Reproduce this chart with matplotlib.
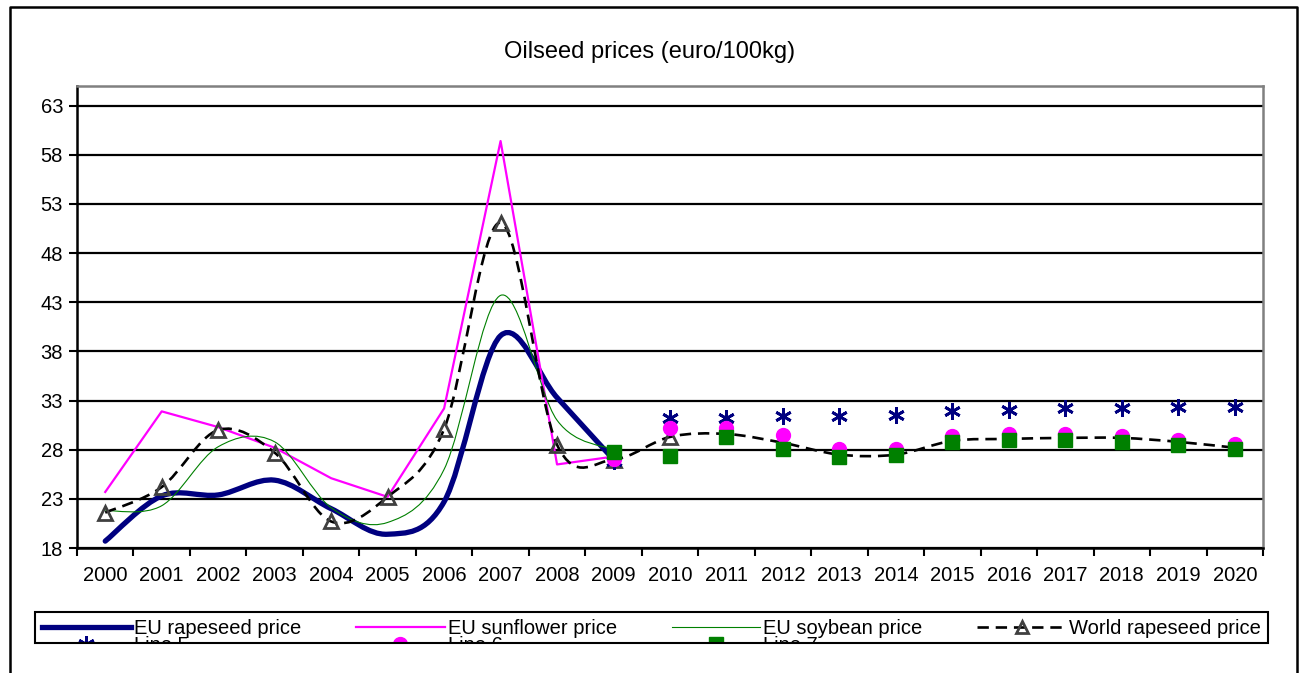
#/usr/bin/python3

import numpy as np
import matplotlib
matplotlib.use('Agg')
import matplotlib.pyplot as plt
from matplotlib.path import Path
from matplotlib.patches import PathPatch, Rectangle
from matplotlib.lines import Line2D

plt.rcParams['font.family'] = ['Liberation Sans', 'DejaVu Sans']

years = ['2000', '2001', '2002', '2003', '2004', '2005', '2006', '2007', '2008', '2009', '2010',
         '2011', '2012', '2013', '2014', '2015', '2016', '2017', '2018', '2019', '2020']

# historical series 2000-2009
eu_rapeseed = [18.7, 23.3, 23.4, 24.9, 22.0, 19.4, 22.7, 39.6, 33.3, 27.0]
eu_sunflower = [23.7, 31.9, 30.3, 28.2, 25.1, 23.2, 32.2, 59.4, 26.5, 27.3]
eu_soybean = [21.8, 22.3, 28.3, 28.8, 22.1, 20.6, 26.0, 43.7, 31.0, 28.0]
# world price 2000-2020
world_rapeseed = [21.6, 24.2, 30.0, 27.7, 20.7, 23.2, 30.1, 51.1, 28.5, 27.0, 29.3,
                  29.6, 28.7, 27.5, 27.5, 28.9, 29.1, 29.2, 29.2, 28.8, 28.2]
# projections 2009-2020
line5 = [26.8, 31.2, 31.2, 31.4, 31.4, 31.5, 31.9, 32.0, 32.2, 32.2, 32.3, 32.3]
line6 = [27.1, 30.2, 30.2, 29.5, 28.1, 28.1, 29.4, 29.6, 29.6, 29.4, 29.0, 28.6]
line7 = [27.8, 27.4, 29.3, 28.1, 27.3, 27.5, 28.8, 29.0, 29.0, 28.8, 28.5, 28.1]
yticks = [18, 23, 28, 33, 38, 43, 48, 53, 58, 63]


def smooth_path(xs, ys):
    # excel-like smoothed line (cubic bezier through the points)
    pts = np.column_stack([xs, ys]).astype(float)
    n = len(pts)
    verts = [pts[0]]
    codes = [Path.MOVETO]
    for i in range(n - 1):
        p0 = pts[max(i - 1, 0)]
        p1 = pts[i]
        p2 = pts[i + 1]
        p3 = pts[min(i + 2, n - 1)]
        c1 = p1 + (p2 - p0) / 6.0
        c2 = p2 - (p3 - p1) / 6.0
        verts += [c1, c2, p2]
        codes += [Path.CURVE4] * 3
    return Path(verts, codes)


W, H = 1299, 673
fig = plt.figure(figsize=(W / 100, H / 100), dpi=100)
ax = fig.add_axes([77 / W, 1 - 548 / H, (1263 - 77) / W, (548 - 86) / H])

x_hist = np.arange(len(eu_rapeseed))
x_world = np.arange(len(world_rapeseed))
x_proj = np.arange(9, 9 + len(line5))

ax.add_patch(PathPatch(smooth_path(x_hist, eu_rapeseed), fill=False, ec='#000080',
                       lw=3.8, capstyle='round', joinstyle='round', zorder=3))
ax.plot(x_hist, eu_sunflower, color='#FF00FF', lw=1.6, zorder=4)
ax.add_patch(PathPatch(smooth_path(x_hist, eu_soybean), fill=False, ec='#008000',
                       lw=0.8, zorder=5))
ax.add_patch(PathPatch(smooth_path(x_world, world_rapeseed), fill=False, ec='black',
                       lw=1.9, ls=(0, (4.3, 2.6)), zorder=6))
ax.plot(x_world[:11], world_rapeseed[:11], ls='none', marker='^', ms=10, mfc='none',
        mec='#404040', mew=2, zorder=6)
ax.plot(x_proj, line5, ls='none', marker=(6, 2, 0), ms=12, mec='#000080', mew=2, zorder=7)
ax.plot(x_proj, line6, ls='none', marker='o', ms=10, mfc='#FF00FF', mec='#FF00FF', zorder=8)
ax.plot(x_proj, line7, ls='none', marker='s', ms=10, mfc='#008000', mec='#008000', zorder=9)

ax.set_xlim(-0.5, len(years) - 0.5)
ax.set_ylim(18, 65)
ax.set_yticks(yticks)
ax.set_xticks(np.arange(len(years)))
ax.set_xticklabels(years)
ax.set_xticks(np.arange(len(years) + 1) - 0.5, minor=True)
ax.tick_params(axis='x', which='major', length=0, pad=13, labelsize=14.5)
ax.tick_params(axis='x', which='minor', length=6, width=1.5, direction='out')
ax.tick_params(axis='y', length=6, width=1.5, direction='out', pad=4, labelsize=14.5)
ax.yaxis.grid(True, color='black', lw=1.6)
ax.set_axisbelow(True)
for s in ['left', 'bottom']:
    ax.spines[s].set_color('black')
    ax.spines[s].set_linewidth(1.8)
for s in ['top', 'right']:
    ax.spines[s].set_color('#808080')
    ax.spines[s].set_linewidth(1.8)

fig.text(0.5, 1 - 52 / H, 'Oilseed prices (euro/100kg)', ha='center', va='center', fontsize=17)

# legend (second row is cut off by the chart border as in the original)
h1 = Line2D([], [], color='#000080', lw=3.8)
h2 = Line2D([], [], color='#FF00FF', lw=1.6)
h3 = Line2D([], [], color='#008000', lw=0.8)
h4 = Line2D([], [], color='black', lw=1.9, ls=(0, (4.3, 2.6)), marker='^', ms=9,
            mfc='none', mec='#404040', mew=2)
h5 = Line2D([], [], ls='none', marker=(6, 2, 0), ms=12, mec='#000080', mew=2)
h6 = Line2D([], [], ls='none', marker='o', ms=10, mfc='#FF00FF', mec='#FF00FF')
h7 = Line2D([], [], ls='none', marker='s', ms=10, mfc='#008000', mec='#008000')
handles = [h1, h5, h2, h6, h3, h7, h4]
labels = ['EU rapeseed price', 'Line 5', 'EU sunflower price', 'Line 6',
          'EU soybean price', 'Line 7', 'World rapeseed price']
top = 1 - 612 / H
fig.legend(handles, labels, ncol=4, loc='upper left', mode='expand',
           bbox_to_anchor=(35 / W, top - 0.3, (1268 - 35) / W, 0.3),
           frameon=False, fontsize=14.5, handlelength=4.4, handletextpad=0.15,
           labelspacing=-0.1, borderpad=0.35, borderaxespad=0)

fig.add_artist(Rectangle((0, 0), 1, 1 - 643 / H, transform=fig.transFigure,
                         fc='white', ec='none', zorder=20))
fig.add_artist(Rectangle((35 / W, 1 - 643 / H), (1268 - 35) / W, (643 - 612) / H,
                         transform=fig.transFigure, fill=False, ec='black', lw=1.5, zorder=21))
fig.add_artist(Line2D([10 / W, 10 / W, 1297 / W, 1297 / W], [0, 1 - 7 / H, 1 - 7 / H, 0],
                      transform=fig.transFigure, color='black', lw=1.8, zorder=22))

fig.savefig('out.png', dpi=100)
